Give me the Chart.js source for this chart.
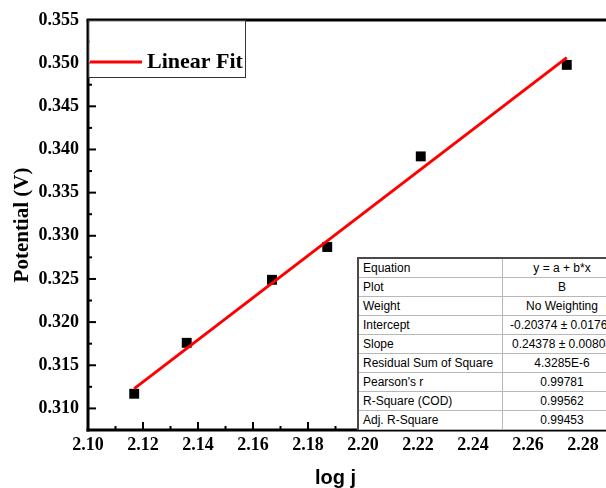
<!DOCTYPE html>
<html>
<head>
<meta charset="utf-8">
<title>log j vs Potential</title>
<script src="https://cdn.jsdelivr.net/npm/chart.js@4.4.1/dist/chart.umd.min.js"></script>
<style>
  html, body { margin: 0; padding: 0; background: #fff; width: 606px; height: 488px; overflow: hidden; }
  #wrap { position: relative; width: 650px; height: 488px; }
  #fitTable {
    position: absolute; left: 357px; top: 257px;
    border-collapse: collapse; background: #fff;
    font: 12px "Liberation Sans", Arial, sans-serif; color: #000;
    border-left: 2px solid #4a4a4a; border-top: 2px solid #4a4a4a;
  }
  #fitTable td { height: 18px; padding: 0; border: 1px solid #b8b8b8; white-space: nowrap; line-height: 18px; }
  #fitTable td.key { width: 139px; padding-left: 4px; }
  #fitTable td.val { width: 118px; text-align: center; }
</style>
</head>
<body>
<div id="wrap">
  <canvas id="tafelChart" width="650" height="488"></canvas>
  <table id="fitTable"></table>
</div>
<script>
  // measured points
  const logJ = [2.1168, 2.1359, 2.1669, 2.1870, 2.2210, 2.2741];
  const potential = [0.3117, 0.3176, 0.3249, 0.3287, 0.3392, 0.3498];

  // linear fit y = a + b*x
  const fitIntercept = -0.20374;
  const fitSlope = 0.24378;

  const xTicks = [2.10, 2.12, 2.14, 2.16, 2.18, 2.20, 2.22, 2.24, 2.26, 2.28];
  const yTicks = [0.310, 0.315, 0.320, 0.325, 0.330, 0.335, 0.340, 0.345, 0.350, 0.355];

  const fitLabels = ['Equation', 'Plot', 'Weight', 'Intercept', 'Slope',
    'Residual Sum of Square', "Pearson's r", 'R-Square (COD)', 'Adj. R-Square'];
  const fitValues = ['y = a + b*x', 'B', 'No Weighting', '-0.20374 \u00b1 0.01765',
    '0.24378 \u00b1 0.00808', '4.3285E-6', '0.99781', '0.99562', '0.99453'];

  const getEl = (id) => document.getElementById(id);

  const buildTable = () => {
    getEl('fitTable').innerHTML = fitLabels.map((label, i) => `
      <tr><td class="key">${label}</td><td class="val">${fitValues[i]}</td></tr>
    `).join('');
  };

  const fitPoints = [logJ[0], logJ[logJ.length - 1]].map((x) => ({ x, y: fitIntercept + fitSlope * x }));
  const scatterPoints = logJ.map((x, i) => ({ x, y: potential[i] }));

  const serif = '"Liberation Serif", "Times New Roman", serif';
  const sans = '"Liberation Sans", Arial, sans-serif';

  const line = (ctx, x0, y0, x1, y1) => {
    ctx.beginPath();
    ctx.moveTo(x0, y0);
    ctx.lineTo(x1, y1);
    ctx.stroke();
  };

  // Origin-style frame: inward ticks, thick axes, legend box, x title
  const framePlugin = {
    id: 'framePlugin',
    afterDraw(chart) {
      const { ctx, chartArea: area, scales: { x, y } } = chart;
      ctx.save();
      ctx.strokeStyle = '#000';
      ctx.lineWidth = 2;

      yTicks.forEach((v) => {
        const py = y.getPixelForValue(v);
        line(ctx, area.left, py, area.left + 8, py);
        const pm = y.getPixelForValue(v + 0.0025);
        if (pm > area.top + 2) line(ctx, area.left, pm, area.left + 4, pm);
      });
      xTicks.forEach((v) => {
        const px = x.getPixelForValue(v);
        line(ctx, px, area.bottom, px, area.bottom - 8);
        const pm = x.getPixelForValue(v + 0.01);
        if (pm < area.right) line(ctx, pm, area.bottom, pm, area.bottom - 4);
      });

      ctx.lineWidth = 3;
      line(ctx, area.left, area.top, area.left, area.bottom + 1.5);
      line(ctx, area.left - 1.5, area.bottom, chart.width, area.bottom);
      line(ctx, area.left - 1.5, area.top, chart.width, area.top);

      // legend
      const boxRight = 245;
      const boxBottom = 77;
      ctx.fillStyle = '#fff';
      ctx.fillRect(area.left + 1.5, area.top + 1.5, boxRight - area.left - 1.5, boxBottom - area.top - 1.5);
      ctx.lineWidth = 1;
      ctx.strokeStyle = '#333';
      ctx.strokeRect(area.left + 0.5, area.top + 0.5, boxRight - area.left, boxBottom - area.top);
      ctx.strokeStyle = '#ff0000';
      ctx.lineWidth = 3;
      line(ctx, area.left + 2, 62, area.left + 54, 62);
      ctx.fillStyle = '#000';
      ctx.font = `bold 22px ${serif}`;
      ctx.textBaseline = 'middle';
      ctx.textAlign = 'left';
      ctx.fillText('Linear Fit', area.left + 59, 62);

      // x axis title
      ctx.font = `bold 20px ${sans}`;
      ctx.textAlign = 'center';
      ctx.textBaseline = 'alphabetic';
      ctx.fillText('log j', (x.left + x.getPixelForValue(2.28)) / 2, 484);
      ctx.restore();
    }
  };

  const renderChart = () => {
    new Chart(getEl('tafelChart'), {
      type: 'scatter',
      data: {
        datasets: [
          {
            label: 'Linear Fit',
            data: fitPoints,
            showLine: true,
            borderColor: '#ff0000',
            borderWidth: 3,
            pointRadius: 0
          },
          {
            label: 'B',
            data: scatterPoints,
            pointStyle: 'rect',
            pointRadius: 7,
            pointBorderWidth: 0,
            backgroundColor: '#000',
            borderColor: '#000'
          }
        ]
      },
      options: {
        responsive: false,
        animation: false,
        layout: { padding: { top: 20, right: 12, left: 0, bottom: 0 } },
        plugins: { legend: { display: false }, tooltip: { enabled: false } },
        scales: {
          x: {
            type: 'linear',
            min: 2.10,
            max: 2.30,
            afterBuildTicks: (scale) => { scale.ticks = xTicks.map((value) => ({ value })); },
            afterFit: (scale) => { scale.height = 58; },
            grid: { display: false, drawTicks: false },
            border: { display: false },
            ticks: {
              padding: 5,
              color: '#000',
              font: { family: serif, size: 18, weight: 'bold' },
              callback: (value) => Number(value).toFixed(2)
            }
          },
          y: {
            type: 'linear',
            min: 0.3075,
            max: 0.355,
            afterBuildTicks: (scale) => { scale.ticks = yTicks.map((value) => ({ value })); },
            afterFit: (scale) => { scale.width = 88; },
            grid: { display: false, drawTicks: false },
            border: { display: false },
            ticks: {
              padding: 9,
              color: '#000',
              font: { family: serif, size: 18, weight: 'bold' },
              callback: (value) => Number(value).toFixed(3)
            },
            title: {
              display: true,
              text: 'Potential (V)',
              color: '#000',
              padding: { top: 10 },
              font: { family: serif, size: 21, weight: 'bold' }
            }
          }
        }
      },
      plugins: [framePlugin]
    });
  };

  buildTable();
  renderChart();
</script>
</body>
</html>
